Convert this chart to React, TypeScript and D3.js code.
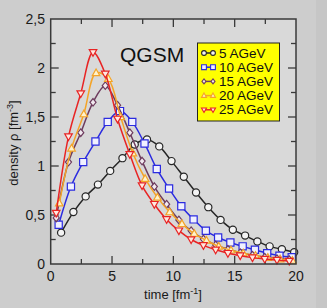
import React from "react";
import * as d3 from "d3";

// time [fm^-1] of each sample (first sample of each series, then every 1 fm)
const series5T = [0.85, 1.85, 2.85, 3.85, 4.85, 5.85, 6.85, 7.85, 8.85, 9.85, 10.85, 11.85, 12.85, 13.85, 14.85, 15.85, 16.85, 17.85, 18.85, 19.85];
const series5V = [0.32, 0.53, 0.69, 0.81, 0.95, 1.08, 1.22, 1.27, 1.2, 1.05, 0.89, 0.73, 0.58, 0.45, 0.35, 0.29, 0.23, 0.18, 0.15, 0.12];

const series10T = [0.65, 1.65, 2.65, 3.65, 4.65, 5.65, 6.65, 7.65, 8.65, 9.65, 10.65, 11.65, 12.65, 13.65, 14.65, 15.65, 16.65, 17.65, 18.65, 19.65];
const series10V = [0.4, 0.79, 1.04, 1.25, 1.45, 1.56, 1.45, 1.23, 0.97, 0.77, 0.59, 0.455, 0.34, 0.27, 0.22, 0.18, 0.145, 0.11, 0.085, 0.07];

const series15T = [0.45, 1.45, 2.45, 3.45, 4.45, 5.45, 6.45, 7.45, 8.45, 9.45, 10.45, 11.45, 12.45, 13.45, 14.45, 15.45, 16.45, 17.45, 18.45, 19.45];
const series15V = [0.47, 1.04, 1.34, 1.65, 1.82, 1.62, 1.34, 1.05, 0.79, 0.61, 0.45, 0.34, 0.255, 0.195, 0.15, 0.115, 0.09, 0.07, 0.055, 0.045];

const series20T = [0.7, 1.7, 2.7, 3.7, 4.7, 5.7, 6.7, 7.7, 8.7, 9.7, 10.7, 11.7, 12.7, 13.7, 14.7, 15.7, 16.7, 17.7, 18.7, 19.7];
const series20V = [0.62, 1.18, 1.53, 1.95, 1.89, 1.5, 1.13, 0.87, 0.68, 0.53, 0.41, 0.31, 0.24, 0.18, 0.14, 0.11, 0.085, 0.065, 0.05, 0.035];

const series25T = [0.45, 1.45, 2.45, 3.45, 4.45, 5.45, 6.45, 7.45, 8.45, 9.45, 10.45, 11.45, 12.45, 13.45, 14.45, 15.45, 16.45, 17.45, 18.45, 19.45];
const series25V = [0.52, 1.3, 1.74, 2.16, 1.94, 1.48, 1.12, 0.8, 0.61, 0.455, 0.34, 0.25, 0.19, 0.145, 0.11, 0.085, 0.065, 0.05, 0.04, 0.03];

const legendLabels = ["5 AGeV", "10 AGeV", "15 AGeV", "20 AGeV", "25 AGeV"];
const xTicks = [0, 5, 10, 15, 20];
const yTicks = [0, 0.5, 1, 1.5, 2, 2.5];
const yTickLabels = ["0", "0,5", "1", "1,5", "2", "2,5"];

type Marker = "circle" | "square" | "diamond" | "up" | "down";

const styles: { color: string; fill: string; marker: Marker }[] = [
  { color: "#262626", fill: "#f4f4f4", marker: "circle" },
  { color: "#2b2be0", fill: "#f0f0ff", marker: "square" },
  { color: "#6e3c5e", fill: "#f2eaf0", marker: "diamond" },
  { color: "#f4a428", fill: "#fff3cc", marker: "up" },
  { color: "#e82424", fill: "#ffe8e0", marker: "down" },
];

const allSeries = [
  { t: series5T, v: series5V },
  { t: series10T, v: series10V },
  { t: series15T, v: series15V },
  { t: series20T, v: series20V },
  { t: series25T, v: series25V },
];

const W = 327;
const H = 308;
const m = { left: 50.7, right: 296, top: 19, bottom: 264 };
const font = "'Liberation Sans', Arial, sans-serif";

function markerPath(kind: Marker, s: number): string {
  switch (kind) {
    case "circle":
      return d3.symbol(d3.symbolCircle, Math.PI * s * s)() as string;
    case "square":
      return `M${-s},${-s}H${s}V${s}H${-s}Z`;
    case "diamond":
      return `M0,${-s * 1.05}L${s * 0.85},0L0,${s * 1.05}L${-s * 0.85},0Z`;
    case "up":
      return `M0,${-s * 1.1}L${s * 1.05},${s * 0.75}L${-s * 1.05},${s * 0.75}Z`;
    case "down":
      return `M0,${s * 1.1}L${s * 1.05},${-s * 0.75}L${-s * 1.05},${-s * 0.75}Z`;
  }
}

export default function App() {
  const x = d3.scaleLinear().domain([0, 20]).range([m.left, m.right]);
  const y = d3.scaleLinear().domain([0, 2.5]).range([m.bottom, m.top]);

  const line = d3
    .line<[number, number]>()
    .x((d) => x(d[0]))
    .y((d) => y(d[1]))
    .curve(d3.curveCatmullRom.alpha(0.5));

  const xMinor = d3.range(0, 20.01, 2.5);
  const yMinor = d3.range(0, 2.51, 0.25);

  return (
    <svg
      width={W}
      height={H}
      style={{ position: "absolute", left: 0, top: 0 }}
      fontFamily={font}
    >
      <rect x={0} y={0} width={W} height={H} fill="#cdcdcd" />
      <rect x={316} y={0} width={W - 316} height={H} fill="#c6c6c6" />
      <rect
        x={m.left}
        y={m.top}
        width={m.right - m.left}
        height={m.bottom - m.top}
        fill="#d9d9d9"
      />

      {/* ticks on all four sides, pointing inward */}
      <g stroke="#3a3a3a" strokeWidth={1.3}>
        {xMinor.map((t) => {
          const major = t % 5 === 0;
          const len = major ? 8 : 5;
          if (t === 0 || t === 20) return null;
          return (
            <g key={"xt" + t}>
              <line x1={x(t)} x2={x(t)} y1={m.bottom} y2={m.bottom - len} />
              <line x1={x(t)} x2={x(t)} y1={m.top} y2={m.top + len} />
            </g>
          );
        })}
        {yMinor.map((v) => {
          const major = Math.abs((v * 2) % 1) < 1e-6;
          const len = major ? 8 : 5;
          if (v === 0 || v > 2.49) return null;
          return (
            <g key={"yt" + v}>
              <line x1={m.left} x2={m.left + len} y1={y(v)} y2={y(v)} />
              <line x1={m.right} x2={m.right - len} y1={y(v)} y2={y(v)} />
            </g>
          );
        })}
      </g>

      {/* series */}
      {allSeries.map((s, i) => {
        const pts = s.t.map((t, j) => [t, s.v[j]] as [number, number]);
        const st = styles[i];
        return (
          <g key={"s" + i}>
            <path d={line(pts) as string} fill="none" stroke={st.color} strokeWidth={1.5} />
            {pts.map((p, j) => (
              <path
                key={j}
                d={markerPath(st.marker, 3.6)}
                transform={`translate(${x(p[0])},${y(p[1])})`}
                fill={st.fill}
                stroke={st.color}
                strokeWidth={1.2}
              />
            ))}
          </g>
        );
      })}

      {/* frame */}
      <rect
        x={m.left}
        y={m.top}
        width={m.right - m.left}
        height={m.bottom - m.top}
        fill="none"
        stroke="#3a3a3a"
        strokeWidth={1.5}
      />

      {/* tick labels */}
      {xTicks.map((t) => (
        <text key={"xl" + t} x={x(t)} y={281} textAnchor="middle" fontSize={14} fill="#1a1a1a">
          {t}
        </text>
      ))}
      {yTicks.map((v, i) => (
        <text key={"yl" + v} x={45} y={y(v) + 5} textAnchor="end" fontSize={14} fill="#1a1a1a">
          {yTickLabels[i]}
        </text>
      ))}

      {/* axis titles */}
      <text x={173} y={299} textAnchor="middle" fontSize={13} fill="#1a1a1a">
        time [fm<tspan dy={-5} fontSize={9}>-1</tspan>
        <tspan dy={5}>]</tspan>
      </text>
      <text
        transform={`translate(18,${143}) rotate(-90)`}
        textAnchor="middle"
        fontSize={13}
        fill="#1a1a1a"
      >
        density ρ [fm<tspan dy={-5} fontSize={9}>-3</tspan>
        <tspan dy={5}>]</tspan>
      </text>

      <text x={120} y={62} fontSize={21} fill="#111">
        QGSM
      </text>

      {/* legend */}
      <rect x={197.5} y={43} width={82} height={78} fill="#ffff00" stroke="#222" strokeWidth={1} />
      {legendLabels.map((lab, i) => {
        const ly = 53 + i * 14.2;
        const st = styles[i];
        return (
          <g key={"lg" + i}>
            <line x1={204} x2={213} y1={ly} y2={ly} stroke={st.color} strokeWidth={1.5} />
            <path d={markerPath(st.marker, 2.4)} transform={`translate(204,${ly})`} fill={st.fill} stroke={st.color} strokeWidth={1.1} />
            <path d={markerPath(st.marker, 2.4)} transform={`translate(213,${ly})`} fill={st.fill} stroke={st.color} strokeWidth={1.1} />
            <text x={219} y={ly + 4.5} fontSize={13.5} fill="#111">
              {lab}
            </text>
          </g>
        );
      })}
    </svg>
  );
}
